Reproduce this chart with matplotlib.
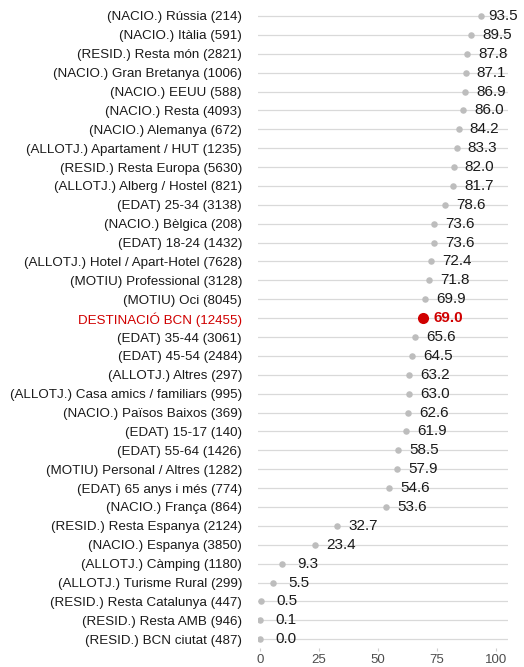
import numpy as np
import matplotlib.pyplot as plt

plt.rcParams['font.family'] = ['Liberation Sans', 'DejaVu Sans']

# Categories (top to bottom) and values
categories = [
    "(NACIO.) Rússia (214)", "(NACIO.) Itàlia (591)", "(RESID.) Resta món (2821)",
    "(NACIO.) Gran Bretanya (1006)", "(NACIO.) EEUU (588)", "(NACIO.) Resta (4093)",
    "(NACIO.) Alemanya (672)", "(ALLOTJ.) Apartament / HUT (1235)",
    "(RESID.) Resta Europa (5630)", "(ALLOTJ.) Alberg / Hostel (821)",
    "(EDAT) 25-34 (3138)", "(NACIO.) Bèlgica (208)", "(EDAT) 18-24 (1432)",
    "(ALLOTJ.) Hotel / Apart-Hotel (7628)", "(MOTIU) Professional (3128)",
    "(MOTIU) Oci (8045)", "DESTINACIÓ BCN (12455)", "(EDAT) 35-44 (3061)",
    "(EDAT) 45-54 (2484)", "(ALLOTJ.) Altres (297)",
    "(ALLOTJ.) Casa amics / familiars (995)", "(NACIO.) Països Baixos (369)",
    "(EDAT) 15-17 (140)", "(EDAT) 55-64 (1426)", "(MOTIU) Personal / Altres (1282)",
    "(EDAT) 65 anys i més (774)", "(NACIO.) França (864)",
    "(RESID.) Resta Espanya (2124)", "(NACIO.) Espanya (3850)",
    "(ALLOTJ.) Càmping (1180)", "(ALLOTJ.) Turisme Rural (299)",
    "(RESID.) Resta Catalunya (447)", "(RESID.) Resta AMB (946)",
    "(RESID.) BCN ciutat (487)",
]
values = [93.5, 89.5, 87.8, 87.1, 86.9, 86.0, 84.2, 83.3, 82.0, 81.7, 78.6, 73.6,
          73.6, 72.4, 71.8, 69.9, 69.0, 65.6, 64.5, 63.2, 63.0, 62.6, 61.9, 58.5,
          57.9, 54.6, 53.6, 32.7, 23.4, 9.3, 5.5, 0.5, 0.1, 0.0]
highlight = "DESTINACIÓ BCN (12455)"

fig = plt.figure(figsize=(5.24, 6.67), dpi=100)
ax = fig.add_axes([0.4924, 0.029, 0.4771, 0.964])

y = np.arange(len(categories))
red = '#d00000'

for yi, (cat, v) in enumerate(zip(categories, values)):
    ax.axhline(yi, color='#d9d9d9', lw=0.9, zorder=1)
    is_h = cat == highlight
    ax.scatter(v, yi, s=64 if is_h else 22, color=red if is_h else '#bdbdbd',
               zorder=3, linewidths=0)
    # keep the top label inside the panel, like a repelled label
    tx = min(v + 11, 103)
    ax.text(tx, yi, f"{v:.1f}", ha='center', va='center', fontsize=11,
            color=red if is_h else '#1a1a1a',
            fontweight='bold' if is_h else 'normal', zorder=4)

ax.set_xlim(-0.85, 105.1)
ax.set_ylim(len(categories) - 0.55, -0.6)
ax.set_yticks(y)
ax.set_yticklabels(categories, fontsize=9.6, color='#1a1a1a')
for lbl in ax.get_yticklabels():
    if lbl.get_text() == highlight:
        lbl.set_color(red)
ax.tick_params(axis='y', length=0, pad=11.5)
ax.set_xticks([0, 25, 50, 75, 100])
ax.tick_params(axis='x', length=2.5, color='#cccccc', labelsize=9.5,
               labelcolor='#4d4d4d', pad=2)
for s in ax.spines.values():
    s.set_visible(False)

fig.savefig('out.png', dpi=100)
